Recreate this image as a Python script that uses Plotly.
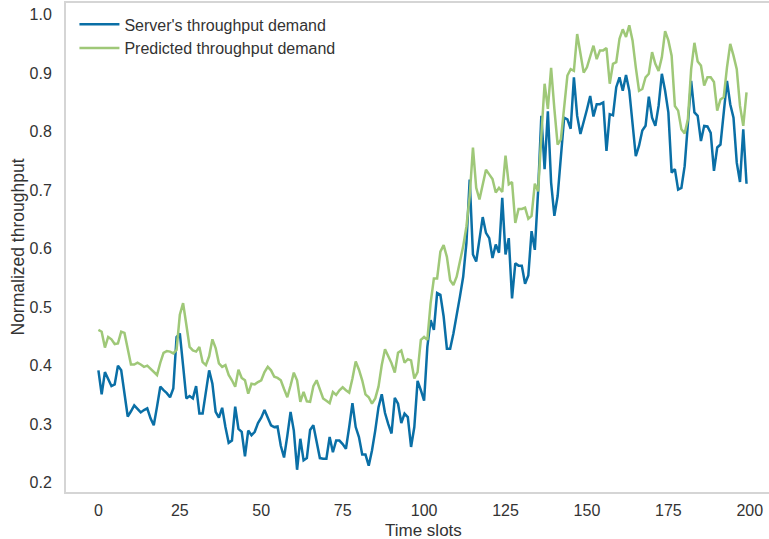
import plotly.graph_objects as go

# Normalized throughput per time slot
time_slots = list(range(200))

server_demand = [
    0.392, 0.351, 0.389, 0.377, 0.365, 0.368, 0.400, 0.392, 0.355, 0.313,
    0.322, 0.332, 0.326, 0.320, 0.324, 0.327, 0.310, 0.298, 0.330, 0.364,
    0.358, 0.353, 0.346, 0.361, 0.449, 0.455, 0.400, 0.344, 0.348, 0.344,
    0.365, 0.318, 0.318, 0.352, 0.392, 0.369, 0.321, 0.311, 0.328, 0.295,
    0.268, 0.272, 0.330, 0.292, 0.287, 0.245, 0.289, 0.281, 0.287, 0.302,
    0.311, 0.324, 0.311, 0.298, 0.295, 0.296, 0.263, 0.243, 0.280, 0.321,
    0.289, 0.222, 0.275, 0.238, 0.242, 0.290, 0.298, 0.268, 0.242, 0.241,
    0.241, 0.278, 0.252, 0.272, 0.272, 0.266, 0.258, 0.295, 0.336, 0.295,
    0.278, 0.248, 0.248, 0.229, 0.255, 0.289, 0.329, 0.351, 0.319, 0.300,
    0.284, 0.345, 0.335, 0.302, 0.318, 0.312, 0.261, 0.295, 0.374, 0.358,
    0.340, 0.432, 0.478, 0.461, 0.524, 0.521, 0.484, 0.429, 0.429, 0.455,
    0.490, 0.518, 0.552, 0.610, 0.718, 0.590, 0.578, 0.615, 0.654, 0.627,
    0.618, 0.584, 0.607, 0.593, 0.687, 0.590, 0.618, 0.515, 0.575, 0.571,
    0.571, 0.540, 0.554, 0.630, 0.598, 0.698, 0.827, 0.736, 0.835, 0.713,
    0.656, 0.690, 0.764, 0.824, 0.821, 0.805, 0.893, 0.827, 0.796, 0.816,
    0.838, 0.861, 0.826, 0.847, 0.847, 0.850, 0.767, 0.830, 0.828, 0.876,
    0.893, 0.870, 0.897, 0.870, 0.813, 0.758, 0.776, 0.802, 0.810, 0.860,
    0.824, 0.810, 0.844, 0.899, 0.870, 0.833, 0.730, 0.736, 0.701, 0.704,
    0.741, 0.818, 0.887, 0.833, 0.827, 0.784, 0.810, 0.809, 0.798, 0.733,
    0.773, 0.778, 0.838, 0.887, 0.847, 0.824, 0.747, 0.714, 0.804, 0.711,
]

predicted_demand = [
    0.461, 0.458, 0.431, 0.449, 0.445, 0.437, 0.438, 0.458, 0.456, 0.430,
    0.402, 0.402, 0.405, 0.402, 0.398, 0.400, 0.395, 0.390, 0.384, 0.405,
    0.422, 0.425, 0.424, 0.421, 0.427, 0.487, 0.507, 0.470, 0.432, 0.426,
    0.424, 0.432, 0.406, 0.401, 0.416, 0.445, 0.430, 0.404, 0.398, 0.401,
    0.384, 0.375, 0.364, 0.393, 0.379, 0.375, 0.352, 0.369, 0.368, 0.372,
    0.375, 0.389, 0.398, 0.392, 0.381, 0.379, 0.375, 0.360, 0.346, 0.366,
    0.388, 0.375, 0.338, 0.355, 0.339, 0.338, 0.365, 0.375, 0.361, 0.344,
    0.340, 0.336, 0.355, 0.350, 0.358, 0.363, 0.358, 0.354, 0.378, 0.407,
    0.393, 0.375, 0.351, 0.346, 0.335, 0.344, 0.364, 0.401, 0.428, 0.416,
    0.404, 0.388, 0.422, 0.426, 0.405, 0.411, 0.409, 0.378, 0.389, 0.444,
    0.449, 0.444, 0.507, 0.549, 0.549, 0.595, 0.606, 0.586, 0.546, 0.538,
    0.552, 0.578, 0.604, 0.638, 0.690, 0.773, 0.704, 0.684, 0.707, 0.735,
    0.727, 0.719, 0.696, 0.704, 0.697, 0.759, 0.710, 0.714, 0.644, 0.668,
    0.668, 0.670, 0.651, 0.656, 0.711, 0.698, 0.793, 0.882, 0.839, 0.909,
    0.839, 0.778, 0.787, 0.847, 0.896, 0.907, 0.904, 0.967, 0.930, 0.901,
    0.910, 0.930, 0.947, 0.924, 0.939, 0.939, 0.943, 0.882, 0.916, 0.919,
    0.959, 0.975, 0.962, 0.982, 0.956, 0.910, 0.870, 0.873, 0.893, 0.899,
    0.936, 0.916, 0.904, 0.927, 0.972, 0.956, 0.930, 0.844, 0.836, 0.804,
    0.797, 0.821, 0.907, 0.952, 0.920, 0.913, 0.879, 0.893, 0.893, 0.885,
    0.836, 0.855, 0.859, 0.910, 0.950, 0.930, 0.907, 0.844, 0.810, 0.867,
]

x_ticks = [0, 25, 50, 75, 100, 125, 150, 175, 200]
y_ticks = [0.2, 0.3, 0.4, 0.5, 0.6, 0.7, 0.8, 0.9, 1.0]

x_label = "Time slots"
y_label = "Normalized throughput"

BLUE = "#0a6fa6"
GREEN = "#9fc878"
FRAME = "#d5d5d5"
TEXT = "#333333"
FONT = "Liberation Sans, Arial, sans-serif"

fig = go.Figure()
fig.add_trace(go.Scatter(
    x=time_slots, y=server_demand, mode="lines",
    name="Server's throughput demand",
    line=dict(color=BLUE, width=2.5),
))
fig.add_trace(go.Scatter(
    x=time_slots, y=predicted_demand, mode="lines",
    name="Predicted throughput demand",
    line=dict(color=GREEN, width=2.5),
))

# Axis titles placed as paper-anchored annotations for exact positioning
fig.add_annotation(
    text=x_label, xref="paper", yref="paper", x=0.508, y=-0.078,
    xanchor="center", yanchor="middle", showarrow=False, borderpad=0,
    font=dict(family=FONT, size=17, color=TEXT),
)
fig.add_annotation(
    text=y_label, xref="paper", yref="paper", x=-0.0697, y=0.5,
    xanchor="center", yanchor="middle", showarrow=False, textangle=-90,
    borderpad=0, font=dict(family=FONT, size=17.5, color=TEXT),
)

fig.update_layout(
    width=769, height=539,
    margin=dict(l=66, r=0, t=3, b=47),
    paper_bgcolor="white", plot_bgcolor="white",
    font=dict(family=FONT, size=16, color=TEXT),
    showlegend=True,
    legend=dict(
        x=0.012, y=0.991, xanchor="left", yanchor="top",
        bgcolor="rgba(255,255,255,0)", borderwidth=0,
        font=dict(family=FONT, size=16, color=TEXT),
        tracegroupgap=0, itemwidth=40,
    ),
    xaxis=dict(
        range=[-9.95, 205.9],
        tickvals=x_ticks, ticktext=[str(v) for v in x_ticks],
        showgrid=False, zeroline=False,
        showline=True, linecolor=FRAME, linewidth=2, mirror=True,
        ticks="", ticklabelstandoff=3,
        tickfont=dict(size=16, color=TEXT),
    ),
    yaxis=dict(
        range=[0.184, 1.020],
        tickvals=y_ticks, ticktext=[f"{v:.1f}" for v in y_ticks],
        showgrid=False, zeroline=False,
        showline=True, linecolor=FRAME, linewidth=2, mirror=False,
        ticks="", ticklabelstandoff=9,
        tickfont=dict(size=16, color=TEXT),
    ),
)

fig.write_html("out.html")
